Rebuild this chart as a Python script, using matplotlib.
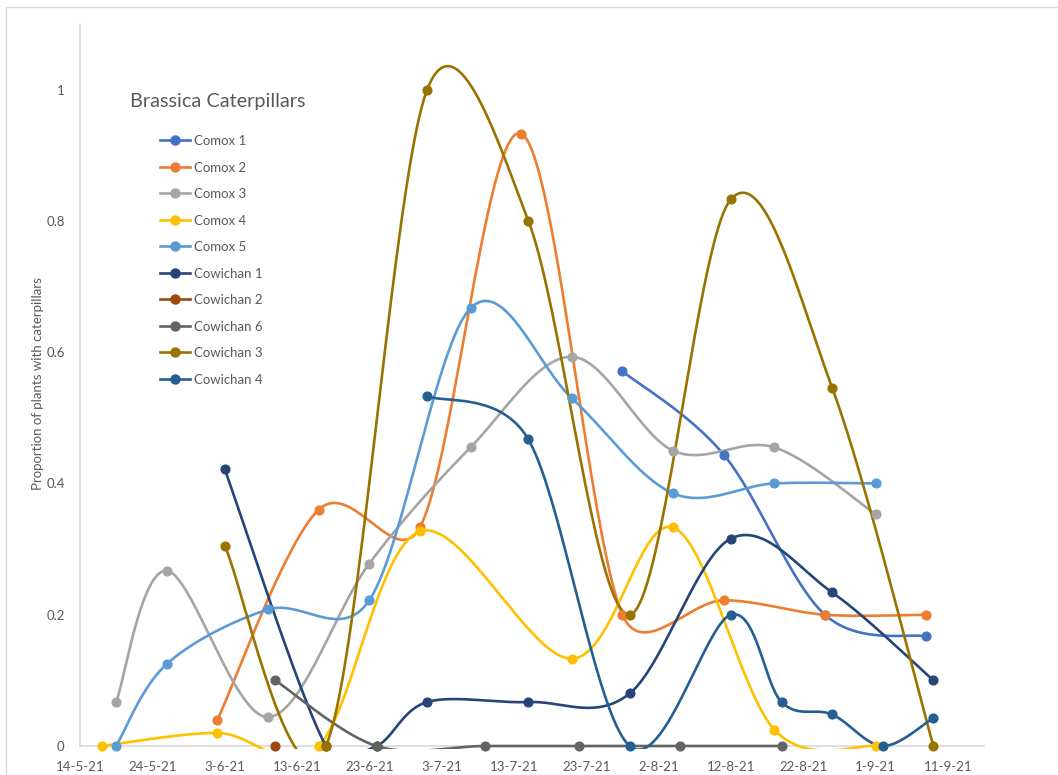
import matplotlib
matplotlib.use("Agg")
import matplotlib.pyplot as plt
import numpy as np
import pandas as pd
import matplotlib.dates as mdates
from matplotlib.patches import Rectangle
from matplotlib.ticker import FixedLocator, FuncFormatter

plt.rcParams["font.family"] = ["Lato", "DejaVu Sans"]

# ---- data ----
comox1_dates = ["2021-07-28", "2021-08-11", "2021-08-25", "2021-09-08"]
comox1_vals = [0.571, 0.444, 0.2, 0.167]

comox2_dates = ["2021-06-02", "2021-06-16", "2021-06-30", "2021-07-14",
                "2021-07-28", "2021-08-11", "2021-08-25", "2021-09-08"]
comox2_vals = [0.04, 0.36, 0.333, 0.933, 0.2, 0.222, 0.2, 0.2]

comox3_dates = ["2021-05-19", "2021-05-26", "2021-06-09", "2021-06-23", "2021-07-07",
                "2021-07-21", "2021-08-04", "2021-08-18", "2021-09-01"]
comox3_vals = [0.067, 0.267, 0.044, 0.278, 0.455, 0.593, 0.45, 0.455, 0.353]

comox4_dates = ["2021-05-17", "2021-06-02", "2021-06-16", "2021-06-30",
                "2021-07-21", "2021-08-04", "2021-08-18", "2021-09-01"]
comox4_vals = [0.0, 0.02, 0.0, 0.327, 0.133, 0.333, 0.025, 0.0]

comox5_dates = ["2021-05-19", "2021-05-26", "2021-06-09", "2021-06-23", "2021-07-07",
                "2021-07-21", "2021-08-04", "2021-08-18", "2021-09-01"]
comox5_vals = [0.0, 0.125, 0.208, 0.222, 0.667, 0.53, 0.385, 0.4, 0.4]

cowichan1_dates = ["2021-06-03", "2021-06-17", "2021-06-24", "2021-07-01", "2021-07-15",
                   "2021-07-29", "2021-08-12", "2021-08-26", "2021-09-09"]
cowichan1_vals = [0.422, 0.0, 0.0, 0.067, 0.067, 0.08, 0.316, 0.234, 0.1]

cowichan2_dates = ["2021-06-10"]
cowichan2_vals = [0.0]

cowichan6_dates = ["2021-06-10", "2021-06-24", "2021-07-09", "2021-07-22",
                   "2021-08-05", "2021-08-19"]
cowichan6_vals = [0.1, 0.0, 0.0, 0.0, 0.0, 0.0]

cowichan3_dates = ["2021-06-03", "2021-06-17", "2021-07-01", "2021-07-15",
                   "2021-07-29", "2021-08-12", "2021-08-26", "2021-09-09"]
cowichan3_vals = [0.305, 0.0, 1.0, 0.8, 0.2, 0.833, 0.546, 0.0]

cowichan4_dates = ["2021-07-01", "2021-07-15", "2021-07-29", "2021-08-12",
                   "2021-08-19", "2021-08-26", "2021-09-02", "2021-09-09"]
cowichan4_vals = [0.533, 0.467, 0.0, 0.2, 0.067, 0.048, 0.0, 0.043]

series = [
    ("Comox 1", comox1_dates, comox1_vals, "#4472C4"),
    ("Comox 2", comox2_dates, comox2_vals, "#ED7D31"),
    ("Comox 3", comox3_dates, comox3_vals, "#A5A5A5"),
    ("Comox 4", comox4_dates, comox4_vals, "#FFC000"),
    ("Comox 5", comox5_dates, comox5_vals, "#5B9BD5"),
    ("Cowichan 1", cowichan1_dates, cowichan1_vals, "#264478"),
    ("Cowichan 2", cowichan2_dates, cowichan2_vals, "#9E480E"),
    ("Cowichan 6", cowichan6_dates, cowichan6_vals, "#636363"),
    ("Cowichan 3", cowichan3_dates, cowichan3_vals, "#997300"),
    ("Cowichan 4", cowichan4_dates, cowichan4_vals, "#255E91"),
]

tick_dates = pd.date_range("2021-05-14", periods=13, freq="10D")
TEXT = "#595959"
AXIS = "#D9D9D9"


def smooth(ax, x, y, n=40):
    # Excel-like smoothed line: Catmull-Rom Bezier in screen space,
    # control arms capped at half the segment length
    pts = ax.transData.transform(np.column_stack([x, y]))
    if len(pts) < 2:
        return np.asarray(x), np.asarray(y)
    p = np.vstack([pts[:1], pts, pts[-1:]])
    t = np.linspace(0, 1, n)[:, None]
    out = []
    for i in range(1, len(p) - 2):
        p0, p1, p2, p3 = p[i - 1], p[i], p[i + 1], p[i + 2]
        d12 = np.hypot(*(p2 - p1))
        d02 = np.hypot(*(p2 - p0))
        d13 = np.hypot(*(p3 - p1))
        f1 = 1 / 6 if d02 / 6 < d12 / 2 else d12 / (2 * d02)
        f2 = 1 / 6 if d13 / 6 < d12 / 2 else d12 / (2 * d13)
        c1 = p1 + (p2 - p0) * f1
        c2 = p2 - (p3 - p1) * f2
        b = (1 - t) ** 3 * p1 + 3 * (1 - t) ** 2 * t * c1 + 3 * (1 - t) * t ** 2 * c2 + t ** 3 * p2
        out.append(b)
    data = ax.transData.inverted().transform(np.vstack(out))
    return data[:, 0], data[:, 1]


fig = plt.figure(figsize=(10.58, 7.75), dpi=100)
W, H = 1058, 775
ax = fig.add_axes([80 / W, 1 - 746 / H, (984 - 80) / W, (746 - 24) / H])

# chart border
fig.patches.append(Rectangle((6 / W, -0.1), 2, 1 - 7 / H + 0.1, transform=fig.transFigure,
                             fill=False, ec="#D9D9D9", lw=1))

ax.set_xlim(mdates.date2num(pd.Timestamp("2021-05-14")), mdates.date2num(pd.Timestamp("2021-09-16")))
ax.set_ylim(0, 1.1)

clip = Rectangle((0, -0.004), 1, 1.004, transform=ax.transAxes, visible=False)
ax.add_patch(clip)

handles = []
for name, dates, vals, col in series:
    xd = mdates.date2num(pd.to_datetime(dates))
    sx, sy = smooth(ax, xd, vals)
    ln, = ax.plot(sx, sy, color=col, lw=1.9, solid_capstyle="round")
    ln.set_clip_path(clip)
    ax.plot(xd, vals, "o", color=col, ms=6.3, clip_on=False, zorder=3)
    h, = ax.plot([], [], color=col, lw=1.9, marker="o", ms=6.5)
    handles.append((h, name))

ax.xaxis.set_major_locator(FixedLocator(mdates.date2num(tick_dates)))
ax.xaxis.set_major_formatter(FuncFormatter(
    lambda v, p: (lambda d: f"{d.day}-{d.month}-{d.strftime('%y')}")(mdates.num2date(v))))
ax.set_yticks([0, 0.2, 0.4, 0.6, 0.8, 1.0])
ax.set_yticklabels(["0", "0.2", "0.4", "0.6", "0.8", "1"])

for s in ["top", "right"]:
    ax.spines[s].set_visible(False)
for s in ["left", "bottom"]:
    ax.spines[s].set_color(AXIS)
    ax.spines[s].set_linewidth(1.2)
    ax.spines[s].set_zorder(0.5)
ax.tick_params(axis="both", length=0, labelsize=9.5, colors=TEXT)
ax.tick_params(axis="x", pad=11)
ax.tick_params(axis="y", pad=11)

fig.text(38 / W, 1 - 384 / H, "Proportion of plants with caterpillars", rotation=90,
         ha="center", va="center", fontsize=9.5, color=TEXT)
fig.text(130 / W, 1 - 102 / H, "Brassica Caterpillars", ha="left", va="center",
         fontsize=14.3, color=TEXT)

leg = ax.legend([h for h, _ in handles], [n for _, n in handles],
                loc="upper left", bbox_to_anchor=(160 / W, 1 - 135 / H),
                bbox_transform=fig.transFigure, frameon=False, fontsize=9.5,
                handlelength=2.3, handletextpad=0.3, labelspacing=1.1,
                borderpad=0, borderaxespad=0)
for t in leg.get_texts():
    t.set_color(TEXT)

fig.savefig("out.png", dpi=100)
